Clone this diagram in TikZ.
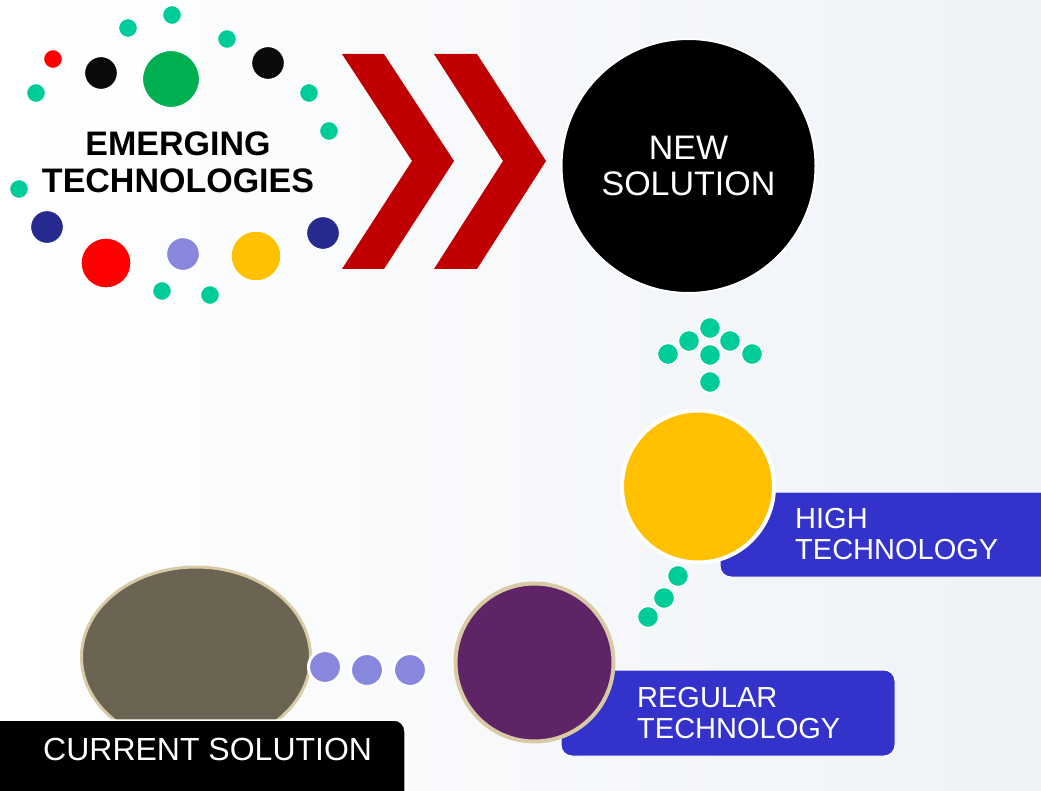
\documentclass[tikz,border=0pt]{standalone}
\usepackage{fontspec}
\setmainfont{Liberation Sans}
\usetikzlibrary{shapes.geometric}
\definecolor{tealdot}{HTML}{00CC99}
\definecolor{navydot}{HTML}{262A8E}
\definecolor{greendot}{HTML}{00B050}
\definecolor{reddot}{HTML}{FF0000}
\definecolor{lavdot}{HTML}{8787DD}
\definecolor{yellowdot}{HTML}{FFC000}
\definecolor{chevred}{HTML}{C00000}
\definecolor{boxblue}{HTML}{3333CC}
\definecolor{purplec}{HTML}{5E2466}
\definecolor{grayc}{HTML}{6B6452}
\definecolor{beige}{HTML}{D9CAA6}
\definecolor{bgblue}{HTML}{EEF2F7}
\definecolor{nearblack}{HTML}{0A0A0A}
\begin{document}
\begin{tikzpicture}[x=1pt,y=-1pt,
  dot/.style={circle, inner sep=0pt, minimum size=#1, draw=white, line width=1.2pt},
  chev/.style={fill=chevred, draw=none},
  labelbox/.style={fill=boxblue, draw=white, line width=1pt, rounded corners=11pt},
  wlabel/.style={text=white, font=\fontsize{29}{33}\selectfont, inner sep=0pt, anchor=base west},
]
\useasboundingbox (0,0) rectangle (1041,791);
\shade[left color=white, right color=bgblue] (0,0) rectangle (1041,791);

% chevrons
\draw[chev] (342,54) -- (384,54) -- (454,161) -- (384,269) -- (342,269) -- (412,161) -- cycle;
\draw[chev] (434,54) -- (477,54) -- (546,161) -- (477,269) -- (434,269) -- (503,161) -- cycle;

% emerging technologies dots
\node[dot=19pt, fill=tealdot] (t1) at (128,28) {};
\node[dot=19pt, fill=tealdot] (t2) at (172,15) {};
\node[dot=19pt, fill=tealdot] (t3) at (227,39) {};
\node[dot=19pt, fill=tealdot] (t4) at (309,93) {};
\node[dot=19pt, fill=tealdot] (t5) at (329,131) {};
\node[dot=19pt, fill=tealdot] (t6) at (36,93) {};
\node[dot=19pt, fill=tealdot] (t7) at (19,189) {};
\node[dot=19pt, fill=tealdot] (t8) at (162,291) {};
\node[dot=19pt, fill=tealdot] (t9) at (210,295) {};
\node[dot=19pt, fill=reddot] (rs) at (53,59) {};
\node[dot=33pt, fill=nearblack] (b1) at (101,73) {};
\node[dot=33pt, fill=nearblack] (b2) at (268,63) {};
\node[dot=57pt, fill=greendot] (g1) at (171,79) {};
\node[dot=33pt, fill=navydot] (n1) at (47,227) {};
\node[dot=33pt, fill=navydot] (n2) at (323,233) {};
\node[dot=50pt, fill=reddot] (rb) at (106,263) {};
\node[dot=33pt, fill=lavdot] (l1) at (183,254) {};
\node[dot=50pt, fill=yellowdot] (y1) at (256,256) {};

\node[font=\bfseries\fontsize{34}{37}\selectfont, align=center, inner sep=0pt] (emerg) at (178,162) {EMERGING\\TECHNOLOGIES};

% new solution
\node[circle, fill=black, draw=white, line width=2pt, minimum size=254pt, inner sep=0pt,
      text=white, align=center, font=\fontsize{34}{36}\selectfont] (new) at (688.5,166) {NEW\\SOLUTION};

% arrow dots
\node[dot=21pt, fill=tealdot] (a1) at (710,328) {};
\node[dot=21pt, fill=tealdot] (a2) at (689,341) {};
\node[dot=21pt, fill=tealdot] (a3) at (730,341) {};
\node[dot=21pt, fill=tealdot] (a4) at (668,354) {};
\node[dot=21pt, fill=tealdot] (a5) at (752,354) {};
\node[dot=21pt, fill=tealdot] (a6) at (710,355) {};
\node[dot=21pt, fill=tealdot] (a7) at (710,382) {};

% high technology
\draw[labelbox] (720,492) rectangle (1060,577);
\node[circle, fill=yellowdot, draw=white, line width=4pt, minimum size=152pt, inner sep=0pt] (high) at (698,486.5) {};
\node[wlabel] (hl1) at (795,528) {HIGH};
\node[wlabel] (hl2) at (795,559) {TECHNOLOGY};

% dots between regular and high
\node[dot=21pt, fill=tealdot] (m1) at (678,576) {};
\node[dot=21pt, fill=tealdot] (m2) at (664,598) {};
\node[dot=21pt, fill=tealdot] (m3) at (648,617) {};

% regular technology
\draw[labelbox] (561,670) rectangle (895,756);
\node[circle, fill=purplec, draw=beige, line width=4pt, minimum size=158pt, inner sep=0pt] (reg) at (534.5,662.5) {};
\node[wlabel] (rl1) at (637,707) {REGULAR};
\node[wlabel] (rl2) at (637,738) {TECHNOLOGY};

% current solution
\node[ellipse, fill=grayc, draw=beige, line width=3pt, minimum width=229pt, minimum height=180pt, inner sep=0pt] (cur) at (196,657) {};
\node[dot=33pt, fill=lavdot, line width=3pt] (c1) at (325,667) {};
\node[dot=33pt, fill=lavdot, line width=3pt] (c2) at (367,670) {};
\node[dot=33pt, fill=lavdot, line width=3pt] (c3) at (410,670) {};
\draw[fill=black, draw=white, line width=1.5pt, rounded corners=11pt] (-10,720) rectangle (405,805);
\node[text=white, font=\fontsize{32}{35}\selectfont, inner sep=0pt, anchor=base west] (curl) at (43,760) {CURRENT SOLUTION};
\end{tikzpicture}
\end{document}
